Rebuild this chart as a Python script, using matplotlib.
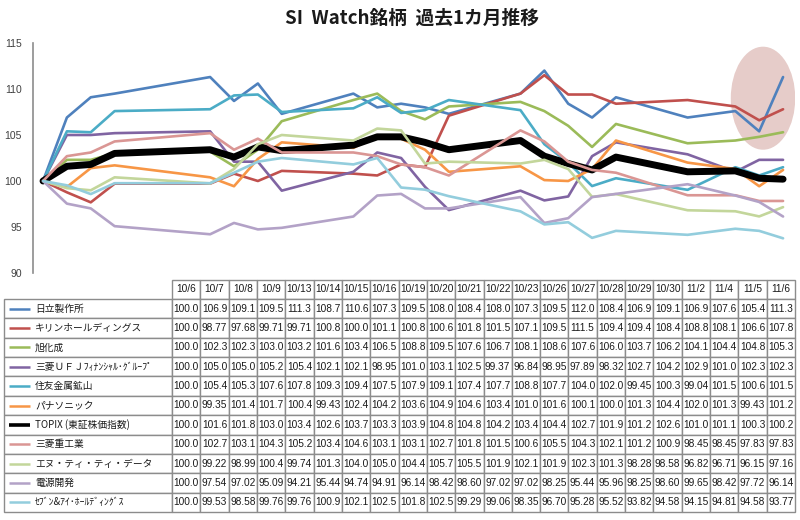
import matplotlib
matplotlib.use('Agg')
import matplotlib.pyplot as plt
import matplotlib.dates as mdates
from matplotlib.patches import Ellipse, Rectangle
import pandas as pd

plt.rcParams['font.family'] = ['Noto Sans CJK JP', 'DejaVu Sans']

dates = ['10/6', '10/7', '10/8', '10/9', '10/13', '10/14', '10/15', '10/16',
         '10/19', '10/20', '10/21', '10/22', '10/23', '10/26', '10/27', '10/28',
         '10/29', '10/30', '11/2', '11/4', '11/5', '11/6']

names = ['日立製作所', 'キリンホールディングス', '旭化成', '三菱ＵＦＪﾌｨﾅﾝｼｬﾙ･ｸﾞﾙｰﾌﾟ',
         '住友金属鉱山', 'パナソニック', 'TOPIX (東証株価指数)', '三菱重工業',
         'エヌ・ティ・ティ・データ', '電源開発', 'ｾﾌﾞﾝ&ｱｲ･ﾎｰﾙﾃﾞｨﾝｸﾞｽ']

colors = ['#4F81BD', '#C0504D', '#9BBB59', '#8064A2', '#4BACC6', '#F79646',
          '#000000', '#DA9694', '#C3D69B', '#B3A2C7', '#93CDDD']

hitachi = [100.0, 106.9, 109.1, 109.5, 111.3, 108.7, 110.6, 107.3, 109.5, 108.0, 108.4,
           108.0, 107.3, 109.5, 112.0, 108.4, 106.9, 109.1, 106.9, 107.6, 105.4, 111.3]
kirin = [100.0, 98.77, 97.68, 99.71, 99.71, 100.8, 100.0, 101.1, 100.8, 100.6, 101.8,
         101.5, 107.1, 109.5, 111.5, 109.4, 109.4, 108.4, 108.8, 108.1, 106.6, 107.8]
asahi = [100.0, 102.3, 102.3, 103.0, 103.2, 101.6, 103.4, 106.5, 108.8, 109.5, 107.6,
         106.7, 108.1, 108.6, 107.6, 106.0, 103.7, 106.2, 104.1, 104.4, 104.8, 105.3]
mufg = [100.0, 105.0, 105.0, 105.2, 105.4, 102.1, 102.1, 98.95, 101.0, 103.1, 102.5,
        99.37, 96.84, 98.95, 97.89, 98.32, 102.7, 104.2, 102.9, 101.0, 102.3, 102.3]
smm = [100.0, 105.4, 105.3, 107.6, 107.8, 109.3, 109.4, 107.5, 107.9, 109.1, 107.4,
       107.7, 108.8, 107.7, 104.0, 102.0, 99.45, 100.3, 99.04, 101.5, 100.6, 101.5]
panasonic = [100.0, 99.35, 101.4, 101.7, 100.4, 99.43, 102.4, 104.2, 103.6, 104.9, 104.6,
             103.4, 101.0, 101.6, 100.1, 100.0, 101.3, 104.4, 102.0, 101.3, 99.43, 101.2]
topix = [100.0, 101.6, 101.8, 103.0, 103.4, 102.6, 103.7, 103.3, 103.9, 104.8, 104.8,
         104.2, 103.4, 104.4, 102.7, 101.9, 101.2, 102.6, 101.0, 101.1, 100.3, 100.2]
mhi = [100.0, 102.7, 103.1, 104.3, 105.2, 103.4, 104.6, 103.1, 103.1, 102.7, 101.8,
       101.5, 100.6, 105.5, 104.3, 102.1, 101.2, 100.9, 98.45, 98.45, 97.83, 97.83]
nttdata = [100.0, 99.22, 98.99, 100.4, 99.74, 101.3, 104.0, 105.0, 104.4, 105.7, 105.5,
           101.9, 102.1, 101.9, 102.3, 101.3, 98.28, 98.58, 96.82, 96.71, 96.15, 97.16]
jpower = [100.0, 97.54, 97.02, 95.09, 94.21, 95.44, 94.74, 94.91, 96.14, 98.42, 98.60,
          97.02, 97.02, 98.25, 95.44, 95.96, 98.25, 98.60, 99.65, 98.42, 97.72, 96.14]
seven = [100.0, 99.53, 98.58, 99.76, 99.76, 100.9, 102.1, 102.5, 101.8, 102.5, 99.29,
         99.06, 98.35, 96.70, 95.28, 95.52, 93.82, 94.58, 94.15, 94.81, 94.58, 93.77]

series = [hitachi, kirin, asahi, mufg, smm, panasonic, topix, mhi, nttdata, jpower, seven]

W, H = 800, 520
fig = plt.figure(figsize=(W / 100, H / 100), dpi=100)
fig.patch.set_facecolor('white')

# ---- line chart ----
ax = fig.add_axes([33 / W, 1 - 273 / H, (795 - 33) / W, (273 - 43) / H])
xd = mdates.date2num(pd.to_datetime(['2015/' + d for d in dates]))

# highlight ellipse around the last days (behind the lines)
ell = Ellipse((xd[0] + 30.16, 109.0), width=2.7, height=11.2,
              facecolor='#E6CCC9', edgecolor='none', zorder=0.5)
ax.add_patch(ell)

for name, vals, col in zip(names, series, colors):
    lw = 5.0 if name.startswith('TOPIX') else 1.9
    ax.plot(xd, vals, color=col, lw=lw, solid_joinstyle='round',
            solid_capstyle='round', zorder=2)

ax.set_xlim(xd[0] - 0.42, xd[-1] + 0.5)
ax.set_ylim(90, 115)
ax.set_yticks([90, 95, 100, 105, 110, 115])
ax.set_xticks([])
for s in ['top', 'right', 'bottom']:
    ax.spines[s].set_visible(False)
ax.spines['left'].set_color('#8C8C8C')
ax.spines['left'].set_linewidth(1.2)
ax.tick_params(axis='y', length=0, labelsize=7.5, labelcolor='#404040', pad=8)
for lab in ax.get_yticklabels():
    lab.set_family(['Liberation Sans', 'DejaVu Sans'])

fig.text(412 / W, 1 - 18 / H, 'SI  Watch銘柄  過去1カ月推移', ha='center', va='center',
         fontsize=13.5, fontweight='bold', color='#1a1a1a')

# ---- data table ----
tab = fig.add_axes([0, 0, 1, 1])
tab.set_xlim(0, W)
tab.set_ylim(H, 0)
tab.axis('off')

x0, x1 = 172, 795
cw = (x1 - x0) / len(dates)
hy0, hy1 = 280, 299
rh = (512 - hy1) / len(names)
lx0 = 4
ec = '#8C8C8C'
num_font = ['Liberation Sans', 'DejaVu Sans']

for j, d in enumerate(dates):
    cx = x0 + j * cw
    tab.add_patch(Rectangle((cx, hy0), cw, hy1 - hy0, facecolor='white', edgecolor=ec, lw=1.0))
    tab.text(cx + cw / 2, (hy0 + hy1) / 2, d, ha='center', va='center',
             fontsize=7.3, family=num_font, color='#1a1a1a')

for i, (name, vals, col) in enumerate(zip(names, series, colors)):
    ry = hy1 + i * rh
    tab.add_patch(Rectangle((lx0, ry), x0 - lx0, rh, facecolor='white', edgecolor=ec, lw=1.0))
    lw = 2.6 if name.startswith('TOPIX') else 1.8
    tab.plot([9, 30], [ry + rh / 2, ry + rh / 2], color=col, lw=lw, solid_capstyle='butt')
    tab.text(35, ry + rh / 2, name, ha='left', va='center', fontsize=7, color='#1a1a1a')
    for j, v in enumerate(vals):
        cx = x0 + j * cw
        tab.add_patch(Rectangle((cx, ry), cw, rh, facecolor='white', edgecolor=ec, lw=1.0))
        txt = f'{v:.1f}' if v >= 100 else f'{v:.2f}'
        tab.text(cx + cw / 2, ry + rh / 2, txt, ha='center', va='center',
                 fontsize=7.3, family=num_font, color='#1a1a1a')

fig.savefig('out.png', dpi=100, facecolor='white')
